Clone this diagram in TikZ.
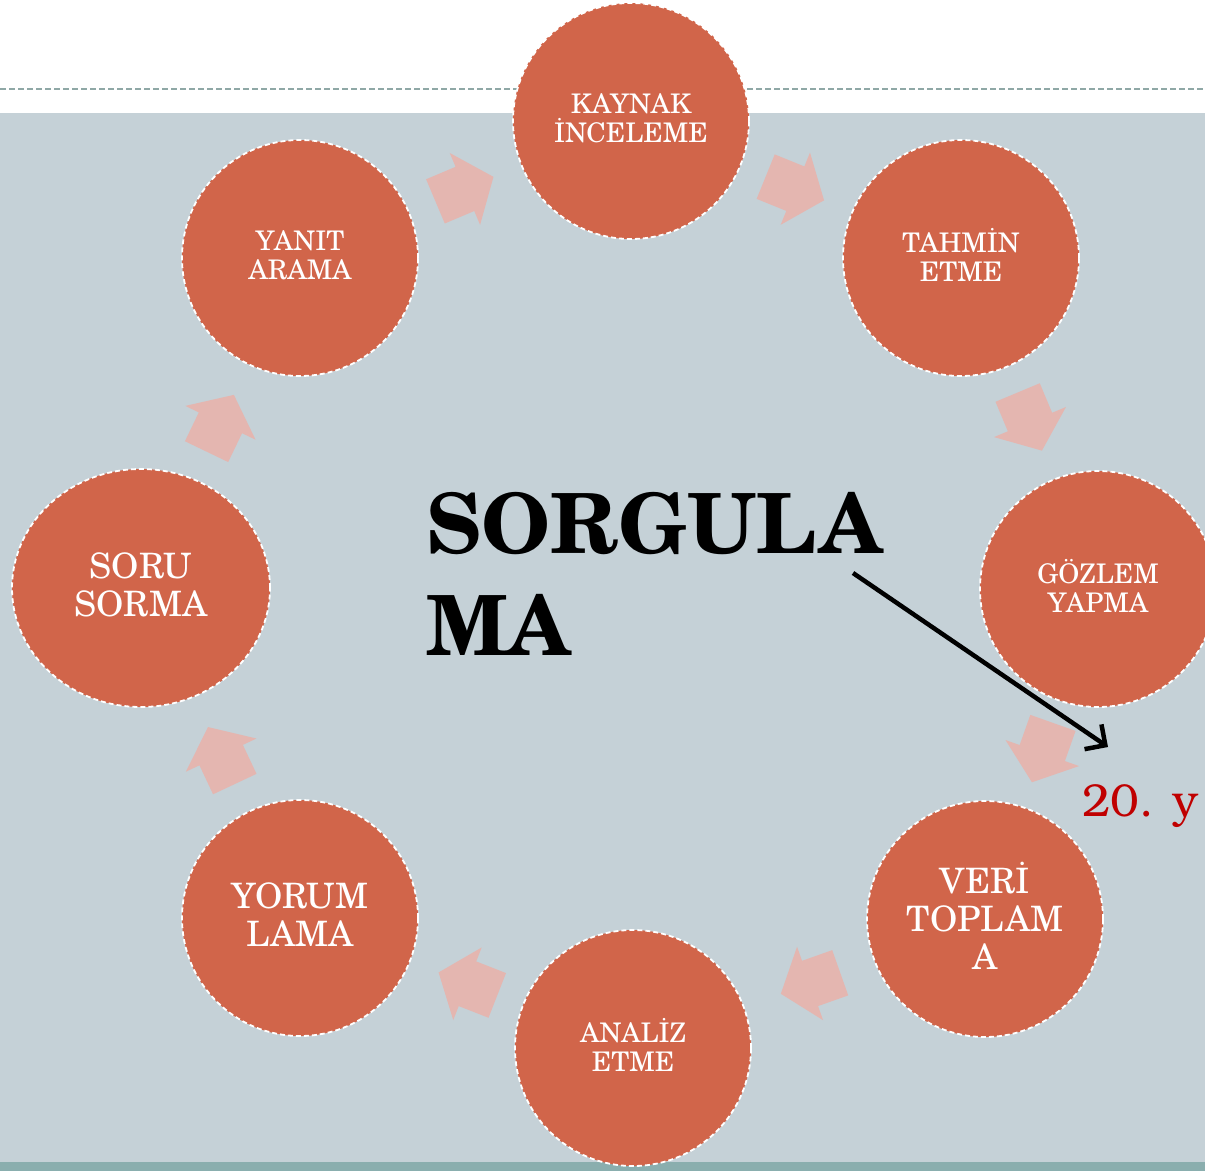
\documentclass[tikz,border=0pt]{standalone}
\usepackage{fontspec}
\setmainfont{TeX Gyre Schola}
\newfontfamily\bonumfont{TeX Gyre Bonum}
\usetikzlibrary{shapes.geometric,arrows.meta}
\definecolor{bgblue}{HTML}{C5D1D7}
\definecolor{barteal}{HTML}{8AAEAE}
\definecolor{lineteal}{HTML}{8FA8A6}
\definecolor{circfill}{HTML}{D1654A}
\definecolor{arrfill}{HTML}{E4B6B0}
\definecolor{darkred}{HTML}{C00000}
\tikzset{
  stage/.style={circle, fill=circfill, draw=white, line width=1.8pt, dash pattern=on 5pt off 3pt,
    minimum size=236pt, inner sep=0pt},
  stagetxt/.style={text=white, align=center, inner sep=0pt, yshift=3pt},
  smalltxt/.style={font=\fontsize{27}{29}\selectfont},
  bigtxt/.style={font=\fontsize{35}{38}\selectfont},
  cycarrow/.style={fill=arrfill},
}
\newcommand\cycarr[3]{\fill[cycarrow, shift={(#1,#2)}, rotate=#3]
  (-31,-24) -- (1,-24) -- (1,-39) -- (32,0) -- (1,39) -- (1,24) -- (-31,24) -- cycle;}
\begin{document}
\begin{tikzpicture}[x=1pt,y=-1pt]
\useasboundingbox (0,0) rectangle (1205,1171);
\clip (0,0) rectangle (1205,1171);
\fill[white] (0,0) rectangle (1205,1171);
\fill[bgblue] (0,113) rectangle (1205,1162);
\fill[barteal] (0,1162) rectangle (1205,1171);
\draw[lineteal, line width=1.5pt, dash pattern=on 6pt off 3pt] (0,89) -- (1205,89);
% cycle arrows
\cycarr{464}{189.3}{22.9}
\cycarr{794.4}{188.3}{-22.1}
\cycarr{1029.6}{421.1}{-67.3}
\cycarr{1042.6}{752.1}{-109.5}
\cycarr{811}{983.1}{-160.5}
\cycarr{468.4}{984.1}{158.6}
\cycarr{221.6}{756}{115.2}
\cycarr{220}{423.7}{64.3}
% stages
\node[stage] (kaynak) at (631,121) {};
\node[stage] (tahmin) at (961,258) {};
\node[stage] (gozlem) at (1098,589) {};
\node[stage] (veri) at (985,919) {};
\node[stage] (analiz) at (633,1048) {};
\node[stage] (yorum) at (300,918) {};
\node[stage, ellipse, minimum width=258pt, minimum height=238pt] (soru) at (141,588) {};
\node[stage] (yanit) at (300,258) {};
\node[stagetxt, smalltxt] (kaynak-t) at (kaynak) {KAYNAK\\İNCELEME};
\node[stagetxt, smalltxt] (tahmin-t) at (tahmin) {TAHMİN\\ETME};
\node[stagetxt, smalltxt] (gozlem-t) at (gozlem) {GÖZLEM\\YAPMA};
\node[stagetxt, bigtxt] (veri-t) at (veri) {VERİ\\TOPLAM\\A};
\node[stagetxt, smalltxt] (analiz-t) at (analiz) {ANALİZ\\ETME};
\node[stagetxt, bigtxt] (yorum-t) at (yorum) {YORUM\\LAMA};
\node[stagetxt, bigtxt] (soru-t) at (soru) {SORU\\SORMA};
\node[stagetxt, smalltxt] (yanit-t) at (yanit) {YANIT\\ARAMA};
% center text
\node[anchor=base west, inner sep=0pt, align=left, font=\bfseries\fontsize{83}{102}\selectfont] (sorg) at (426,655) {SORGULA\\MA};
\node[anchor=base west, inner sep=0pt, text=darkred, font=\bonumfont\fontsize{46}{48}\selectfont] (yuz) at (1082,816) {20. y};
\coordinate (as) at (853,573);
\coordinate (ae) at (1108,747);
\draw[line width=4.5pt, -{Straight Barb[length=15pt,width=30pt,line width=4.5pt]}] (as) -- (ae);
\end{tikzpicture}
\end{document}
